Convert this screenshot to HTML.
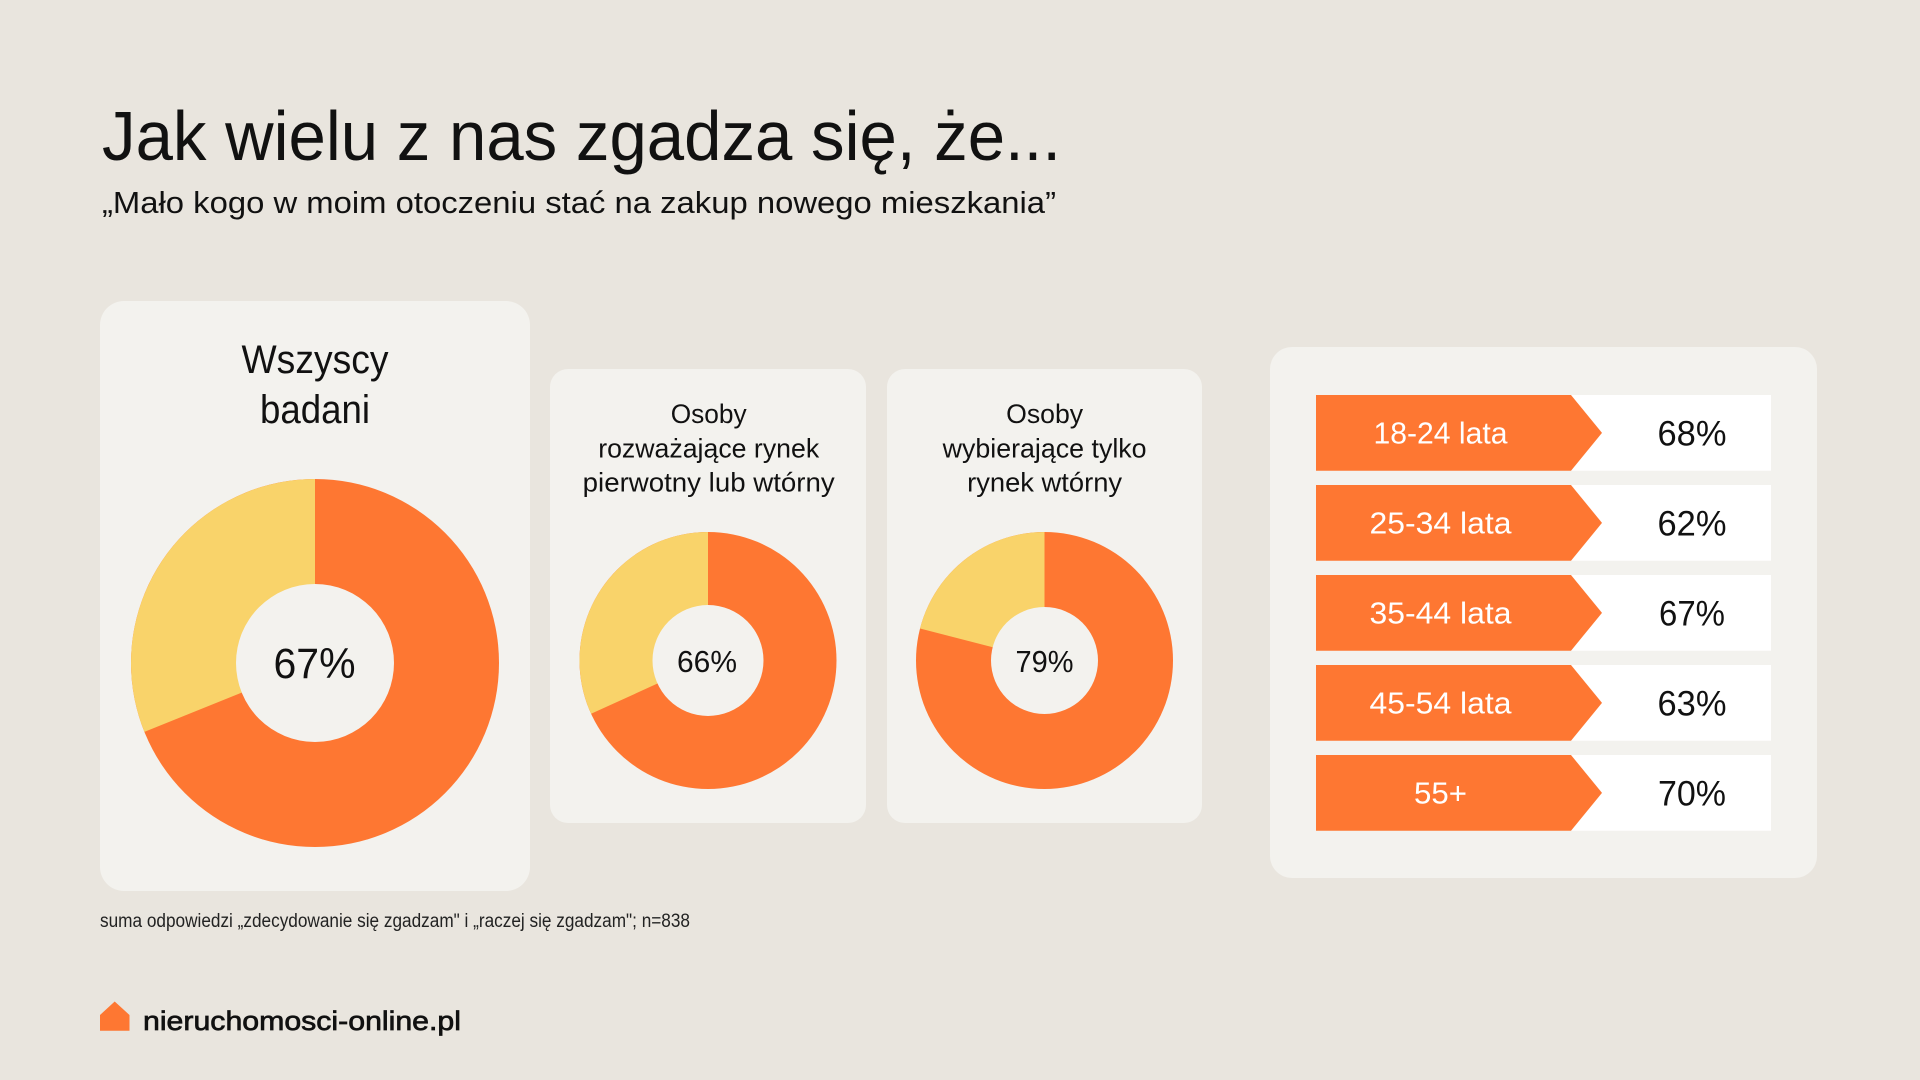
<!DOCTYPE html>
<html lang="pl">
<head>
<meta charset="utf-8">
<style>
  html,body{margin:0;padding:0;background:#E9E5DE;}
  svg{display:block;}
  text{font-family:"Liberation Sans","DejaVu Sans",sans-serif;}
</style>
</head>
<body>
<svg width="1920" height="1080" viewBox="0 0 1920 1080" xmlns="http://www.w3.org/2000/svg">
  <rect x="0" y="0" width="1920" height="1080" fill="#E9E5DE"/>

  <!-- Title -->
  <text x="102" y="160" font-size="70" fill="#111" textLength="959" lengthAdjust="spacingAndGlyphs">Jak wielu z nas zgadza się, że...</text>
  <text x="102" y="213" font-size="31" fill="#111" textLength="954" lengthAdjust="spacingAndGlyphs">„Mało kogo w moim otoczeniu stać na zakup nowego mieszkania”</text>

  <!-- Cards -->
  <rect x="100" y="301" width="430" height="590" rx="24" fill="#F3F2EE"/>
  <rect x="550" y="369" width="316" height="454" rx="18" fill="#F3F2EE"/>
  <rect x="887" y="369" width="315" height="454" rx="18" fill="#F3F2EE"/>
  <rect x="1270" y="347" width="547" height="531" rx="22" fill="#F3F2EE"/>

  <!-- Card 1 heading -->
  <text x="241.5" y="373" font-size="40" fill="#111" textLength="147" lengthAdjust="spacingAndGlyphs">Wszyscy</text>
  <text x="260" y="423" font-size="40" fill="#111" textLength="110" lengthAdjust="spacingAndGlyphs">badani</text>

  <!-- Donut 1 -->
  <circle cx="315" cy="663" r="184" fill="#FE7732"/>
  <path d="M315 663 L144.4 731.9 A184 184 0 0 1 315 479 Z" fill="#F9D36A"/>
  <circle cx="315" cy="663" r="79" fill="#F3F2EE"/>
  <text x="273.5" y="678" font-size="43" fill="#111" textLength="82" lengthAdjust="spacingAndGlyphs">67%</text>

  <!-- Card 2 heading -->
  <text x="670.7" y="423" font-size="27" fill="#111" textLength="76" lengthAdjust="spacingAndGlyphs">Osoby</text>
  <text x="598.2" y="457.5" font-size="27" fill="#111" textLength="221" lengthAdjust="spacingAndGlyphs">rozważające rynek</text>
  <text x="582.7" y="491.5" font-size="27" fill="#111" textLength="252" lengthAdjust="spacingAndGlyphs">pierwotny lub wtórny</text>

  <!-- Donut 2 -->
  <circle cx="708" cy="660.5" r="128.5" fill="#FE7732"/>
  <path d="M708 660.5 L591.1 713.8 A128.5 128.5 0 0 1 708 532 Z" fill="#F9D36A"/>
  <circle cx="708" cy="660.5" r="55.5" fill="#F3F2EE"/>
  <text x="677" y="672" font-size="31" fill="#111" textLength="60" lengthAdjust="spacingAndGlyphs">66%</text>

  <!-- Card 3 heading -->
  <text x="1006.1" y="423" font-size="27" fill="#111" textLength="77" lengthAdjust="spacingAndGlyphs">Osoby</text>
  <text x="942.6" y="457.5" font-size="27" fill="#111" textLength="204" lengthAdjust="spacingAndGlyphs">wybierające tylko</text>
  <text x="967.1" y="491.5" font-size="27" fill="#111" textLength="155" lengthAdjust="spacingAndGlyphs">rynek wtórny</text>

  <!-- Donut 3 -->
  <circle cx="1044.5" cy="660.5" r="128.5" fill="#FE7732"/>
  <path d="M1044.5 660.5 L920.04 628.54 A128.5 128.5 0 0 1 1044.5 532 Z" fill="#F9D36A"/>
  <circle cx="1044.5" cy="660.5" r="53.5" fill="#F3F2EE"/>
  <text x="1015.5" y="672" font-size="31" fill="#111" textLength="58" lengthAdjust="spacingAndGlyphs">79%</text>

  <!-- Age rows -->
  <g>
    <rect x="1571" y="395" width="200" height="75.7" fill="#FFFFFF"/>
    <polygon points="1316,395 1571,395 1602,432.85 1571,470.7 1316,470.7" fill="#FE7732"/>
    <text x="1373.5" y="443.5" font-size="31" fill="#FFFFFF" textLength="134" lengthAdjust="spacingAndGlyphs">18-24 lata</text>
    <text x="1657.5" y="445.5" font-size="35" fill="#111" textLength="69" lengthAdjust="spacingAndGlyphs">68%</text>
  </g>
  <g>
    <rect x="1571" y="485" width="200" height="75.7" fill="#FFFFFF"/>
    <polygon points="1316,485 1571,485 1602,522.85 1571,560.7 1316,560.7" fill="#FE7732"/>
    <text x="1369.5" y="533.5" font-size="31" fill="#FFFFFF" textLength="142" lengthAdjust="spacingAndGlyphs">25-34 lata</text>
    <text x="1657.5" y="535.5" font-size="35" fill="#111" textLength="69" lengthAdjust="spacingAndGlyphs">62%</text>
  </g>
  <g>
    <rect x="1571" y="575" width="200" height="75.7" fill="#FFFFFF"/>
    <polygon points="1316,575 1571,575 1602,612.85 1571,650.7 1316,650.7" fill="#FE7732"/>
    <text x="1369.5" y="623.5" font-size="31" fill="#FFFFFF" textLength="142" lengthAdjust="spacingAndGlyphs">35-44 lata</text>
    <text x="1659" y="625.5" font-size="35" fill="#111" textLength="66" lengthAdjust="spacingAndGlyphs">67%</text>
  </g>
  <g>
    <rect x="1571" y="665" width="200" height="75.7" fill="#FFFFFF"/>
    <polygon points="1316,665 1571,665 1602,702.85 1571,740.7 1316,740.7" fill="#FE7732"/>
    <text x="1369.5" y="713.5" font-size="31" fill="#FFFFFF" textLength="142" lengthAdjust="spacingAndGlyphs">45-54 lata</text>
    <text x="1657.5" y="715.5" font-size="35" fill="#111" textLength="69" lengthAdjust="spacingAndGlyphs">63%</text>
  </g>
  <g>
    <rect x="1571" y="755" width="200" height="75.7" fill="#FFFFFF"/>
    <polygon points="1316,755 1571,755 1602,792.85 1571,830.7 1316,830.7" fill="#FE7732"/>
    <text x="1414" y="803.5" font-size="31" fill="#FFFFFF" textLength="53" lengthAdjust="spacingAndGlyphs">55+</text>
    <text x="1658" y="805.5" font-size="35" fill="#111" textLength="68" lengthAdjust="spacingAndGlyphs">70%</text>
  </g>

  <!-- Footnote -->
  <text x="100" y="927" font-size="19" fill="#222" textLength="590" lengthAdjust="spacingAndGlyphs">suma odpowiedzi „zdecydowanie się zgadzam" i „raczej się zgadzam"; n=838</text>

  <!-- Logo -->
  <polygon points="100,1015 114.7,1001.5 129.5,1015 129.5,1030.7 100,1030.7" fill="#FE7732"/>
  <text x="143" y="1030" font-size="27" fill="#111" stroke="#111" stroke-width="0.7" textLength="318" lengthAdjust="spacingAndGlyphs">nieruchomosci-online.pl</text>
</svg>
</body>
</html>
